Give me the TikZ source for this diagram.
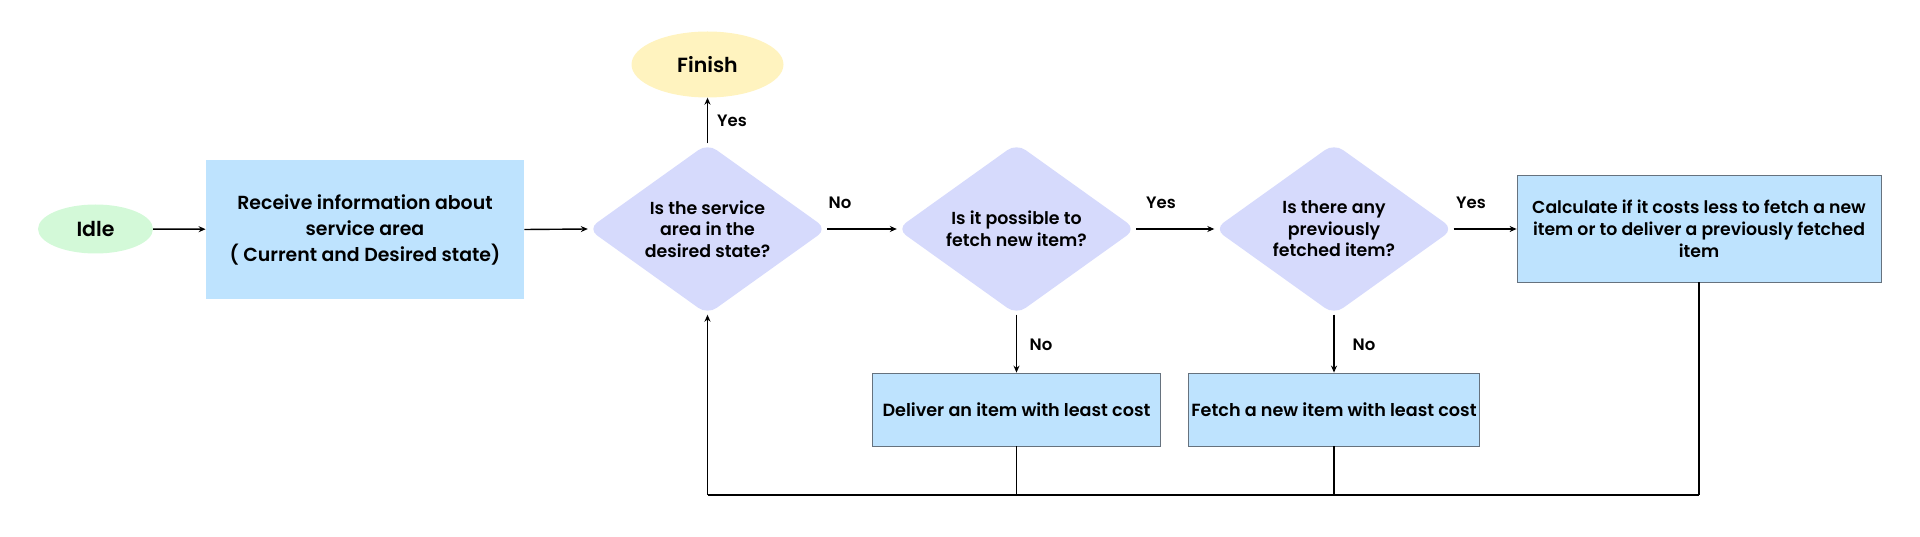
\documentclass[tikz,border=0pt]{standalone}
\usepackage{fontspec}
\setmainfont{Poppins}[UprightFont={* Medium},BoldFont={* SemiBold}]
\usetikzlibrary{shapes.geometric,arrows.meta}
\definecolor{idlegreen}{HTML}{D3F9D8}
\definecolor{finyellow}{HTML}{FFF3BF}
\definecolor{boxblue}{HTML}{BEE3FE}
\definecolor{boxborder}{HTML}{66727E}
\definecolor{diamondv}{HTML}{D6DAFC}
\begin{document}
\begin{tikzpicture}[x=1pt,y=-1pt,
  term/.style={ellipse, inner sep=0},
  procbox/.style={rectangle, fill=boxblue, draw=boxborder, line width=0.8pt, align=center, inner sep=0},
  decision/.style={diamond, aspect=1.4, fill=diamondv, rounded corners=11pt, inner sep=0, minimum width=239pt, minimum height=171pt, align=center, font=\bfseries\fontsize{17.4}{21.5}\selectfont},
  conn/.style={line width=1.4pt, -{Stealth[length=7pt,width=6pt]}},
  plain/.style={line width=1.2pt},
  lbl/.style={font=\bfseries\fontsize{16.5}{18}\selectfont, inner sep=0}]
\useasboundingbox (0,0) rectangle (1920,537);
\node[term, fill=idlegreen, minimum width=115pt, minimum height=49pt, font=\bfseries\fontsize{20.5}{24}\selectfont] (idle) at (95.5,229) {Idle};
\node[procbox, draw=none, minimum width=318pt, minimum height=139pt, font=\bfseries\fontsize{18.9}{26}\selectfont] (recv) at (365,229.5) {Receive information about\\service area\\( Current and Desired state)};
\node[decision] (d1) at (707.5,229) {Is the service\\area in the\\desired state?};
\node[term, fill=finyellow, minimum width=152pt, minimum height=66pt, font=\bfseries\fontsize{20.5}{24}\selectfont] (fin) at (707.5,64.5) {Finish};
\node[decision] (d2) at (1016.5,229) {Is it possible to\\fetch new item?};
\node[decision] (d3) at (1334,229) {Is there any\\previously\\fetched item?};
\node[procbox, minimum width=364pt, minimum height=107pt, font=\bfseries\fontsize{17.3}{22}\selectfont] (calc) at (1699,228.5) {Calculate if it costs less to fetch a new\\item or to deliver a previously fetched\\item};
\node[procbox, minimum width=288pt, minimum height=73pt, font=\bfseries\fontsize{17.6}{20}\selectfont] (deliv) at (1016.5,409.5) {Deliver an item with least cost};
\node[procbox, minimum width=291pt, minimum height=73pt, font=\bfseries\fontsize{17.6}{20}\selectfont] (fetch) at (1334,409.5) {Fetch a new item with least cost};
\coordinate (loopL) at (707.5,495);
\draw[conn] (idle) -- (recv);
\draw[conn] (recv.east) -- (d1.west);
\draw[conn] (d1.north) -- (fin.south);
\draw[conn] (d1.east) -- (d2.west);
\draw[conn] (d2.east) -- (d3.west);
\draw[conn] (d3.east) -- (calc.west |- d3.east);
\draw[conn] (d2.south) -- (deliv.north);
\draw[conn] (d3.south) -- (fetch.north);
\draw[plain] (deliv.south) -- (deliv.south |- loopL);
\draw[plain] (fetch.south) -- (fetch.south |- loopL);
\draw[plain] (calc.south) -- (calc.south |- loopL);
\draw[line width=1.6pt] (calc.south |- loopL) -- (loopL);
\draw[conn] (loopL) -- (d1.south);
\node[lbl] (y1) at (732,121) {Yes};
\node[lbl] (n1) at (840,203) {No};
\node[lbl] (y2) at (1161,203) {Yes};
\node[lbl] (y3) at (1471,203) {Yes};
\node[lbl] (n2) at (1041,345) {No};
\node[lbl] (n3) at (1364,345) {No};
\end{tikzpicture}
\end{document}
